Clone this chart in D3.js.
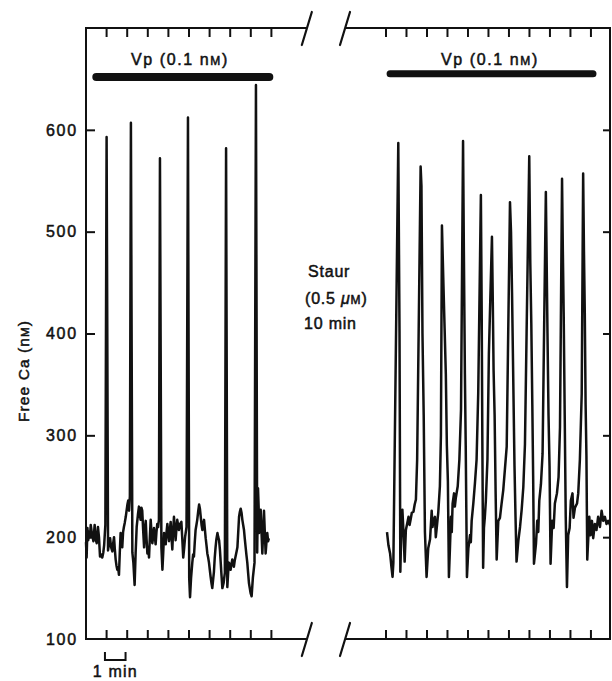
<!DOCTYPE html>
<html>
<head>
<meta charset="utf-8">
<script src="https://cdn.jsdelivr.net/npm/d3@7"></script>
<style>
  html, body { margin: 0; padding: 0; background: #fff; }
  svg { display: block; }
  text { font-family: "Liberation Sans", Arial, Helvetica, sans-serif; fill: #111; stroke: #111; stroke-width: 0.5px; }
</style>
</head>
<body>
<svg id="chart" width="612" height="681"></svg>
<script>
// ---------- data (time in minutes, free Ca in nM) ----------
const leftTime = [0.00,0.03,0.07,0.11,0.15,0.19,0.23,0.29,0.36,0.42,0.47,0.52,0.58,0.63,0.68,0.74,0.79,0.84,0.88,0.94,
  1.00,1.07,1.12,1.17,1.22,1.28,1.32,1.36,1.40,1.44,1.48,1.52,1.56,1.60,1.64,1.68,1.72,1.76,1.80,1.84,1.88,1.93,1.97,2.01,2.05,2.09,2.13,
  2.18,2.25,2.30,2.36,2.41,2.46,2.52,2.57,2.61,2.65,2.69,2.73,2.78,2.82,2.86,2.90,2.94,2.98,3.02,3.06,3.10,3.14,3.18,3.22,3.26,3.30,3.34,3.38,3.42,3.46,3.50,3.54,
  3.59,3.66,3.71,3.75,3.79,3.83,3.87,3.91,3.95,3.99,4.03,4.07,4.11,4.15,4.19,4.23,4.27,4.31,4.35,4.39,4.43,4.47,4.51,4.57,4.63,4.67,4.72,4.76,4.81,4.88,
  4.95,5.01,5.05,5.10,5.16,5.20,5.24,5.28,5.32,5.36,5.40,5.45,5.49,5.53,5.57,5.61,5.65,5.69,5.73,5.77,5.81,5.85,5.89,5.93,5.97,6.01,6.05,6.09,6.13,6.17,6.21,6.25,6.29,6.33,6.38,6.42,6.46,6.50,6.54,6.58,6.62,6.68,6.74,
  6.80,6.86,6.90,6.94,6.98,7.02,7.06,7.10,7.14,7.18,7.22,7.27,7.31,7.35,7.39,7.43,7.47,7.51,7.55,7.59,7.63,7.67,7.71,7.75,7.79,7.83,7.87,7.91,7.95,7.99,8.04,8.10,8.18,
  8.25,8.31,8.35,8.38,8.40,8.44,8.48,8.52,8.56,8.60,8.64,8.68,8.72,8.76,8.80,8.84,8.88];
const leftCa = [195,180,209,197,205,200,212,203,196,212,198,194,210,200,181,183,180,185,192,212,
  593,187,195,199,190,186,194,200,188,178,172,168,170,163,185,204,196,190,205,210,214,220,226,232,236,226,240,
  607,185,175,153,185,210,222,230,223,217,229,226,205,190,208,216,198,184,190,180,200,217,205,194,200,209,201,193,205,213,210,217,
  572,190,168,185,204,198,193,205,213,204,196,207,215,200,188,206,220,210,197,208,217,212,207,213,215,200,180,188,200,210,
  612,160,141,160,175,183,181,195,207,212,217,226,232,228,220,212,207,213,217,208,199,192,184,180,175,168,161,155,150,158,166,180,190,198,204,200,197,188,175,162,150,155,165,
  582,151,165,175,172,168,173,178,174,171,177,182,186,190,205,220,225,228,224,217,212,207,198,190,182,175,165,155,150,145,142,160,175,
  644,185,248,230,204,215,227,205,184,205,226,205,184,195,204,196,199];

const rightTime = [2.05,2.12,2.20,2.27,2.32,2.36,2.60,2.66,2.70,2.75,2.80,2.86,2.91,2.97,3.04,3.10,3.15,3.20,3.26,3.34,3.40,3.46,3.52,
  3.69,3.73,3.78,3.84,3.90,3.98,4.06,4.15,4.23,4.27,4.31,4.39,4.43,4.47,4.55,4.63,4.68,
  4.73,4.80,4.86,4.92,4.97,5.02,5.07,5.12,5.17,5.21,5.25,5.32,5.36,5.41,5.50,5.58,5.66,
  5.76,5.80,5.85,5.89,5.95,6.02,6.10,6.14,6.18,6.26,6.34,6.42,6.50,
  6.63,6.67,6.70,6.74,6.78,6.82,6.87,6.95,7.02,
  7.17,7.21,7.25,7.30,7.35,7.40,7.48,7.56,7.64,7.72,7.80,7.89,7.95,
  8.05,8.10,8.15,8.22,8.27,8.32,8.37,8.46,8.54,8.62,8.70,8.78,8.86,
  8.99,9.04,9.09,9.14,9.18,9.22,9.32,9.38,9.43,9.48,9.56,9.64,9.70,
  9.80,9.84,9.88,9.93,9.98,10.03,10.11,10.18,10.24,10.34,10.42,10.49,
  10.59,10.63,10.67,10.72,10.77,10.83,10.89,10.96,11.02,11.10,11.15,11.22,11.32,11.38,11.46,11.55,
  11.62,11.66,11.70,11.74,11.78,11.82,11.92,11.98,12.05,12.11,12.19,12.27,12.35,12.44,12.52,12.60,12.68,12.76,12.84,12.93];
const rightCa = [205,192,184,170,161,175,587,400,166,210,227,202,176,207,214,220,212,217,224,225,232,237,276,
  564,545,400,320,205,161,189,198,226,210,216,220,200,208,224,250,300,
  506,450,405,360,290,255,161,189,220,205,233,243,230,239,250,276,325,
  589,480,360,290,161,189,202,195,216,233,253,276,341,
  536,420,300,170,209,219,235,276,380,
  495,433,364,320,243,178,216,219,233,246,266,289,380,
  529,500,440,340,270,220,176,197,210,227,249,291,400,
  574,470,410,330,260,174,194,216,205,236,252,282,380,
  539,470,400,320,270,174,216,209,233,243,259,308,
  552,480,420,320,220,151,202,209,236,243,219,229,233,243,276,341,
  557,480,420,330,280,178,220,202,216,199,213,207,220,210,226,216,220,213,216,212];

const yTickValues = [100, 200, 300, 400, 500, 600];
const leftMinuteTicks = [1, 2, 3, 4, 5, 6, 7, 8, 9];
const rightMinuteTicks = [2, 3, 4, 5, 6, 7, 8, 9, 10, 11, 12];
const vpLeft = [0.5, 8.9];       // vasopressin application (min, left panel)
const vpRight = [2.2, 12.1];     // vasopressin application (min, right panel)
const vpLevel = 652;             // drawn just above the traces (nM scale)
const stauLines = ["Staur", "(0.5 \u03bcM)", "10 min"];

(function draw() {
// ---------- scales ----------
const svg = d3.select("#chart");
const y = d3.scaleLinear().domain([100, 700]).range([639, 28]);
const xL = d3.scaleLinear().domain([0, 10.72]).range([86, 86 + 10.72 * 20.6]);
const xR = d3.scaleLinear().domain([0, 12.93]).range([345, 610]);

const ink = "#111";
const axisW = 2;

// ---------- frame ----------
const yTop = y(700), yBot = y(100);
const frame = svg.append("g").attr("stroke", ink).attr("stroke-width", axisW).attr("fill", "none");
frame.append("path").attr("d", `M${xL(10.72)},${yTop}H${xL(0)}V${yBot}H${xL(10.72)}`);
frame.append("path").attr("d", `M${xR(0)},${yTop}H${xR(12.93)}V${yBot}H${xR(0)}`);

// break marks
const brk = svg.append("g").attr("stroke", ink).attr("stroke-width", 2.2).attr("stroke-linecap", "round");
[[xL(10.72), yTop], [xR(0), yTop], [xL(10.72), yBot], [xR(0), yBot]].forEach(([cx, cy]) => {
  brk.append("line").attr("x1", cx - 5).attr("y1", cy + 17).attr("x2", cx + 5).attr("y2", cy - 16);
});

// x ticks (inward, top and bottom)
const tickLen = 9;
const xt = svg.append("g").attr("stroke", ink).attr("stroke-width", 2);
leftMinuteTicks.forEach(t => {
  xt.append("line").attr("x1", xL(t)).attr("x2", xL(t)).attr("y1", yBot).attr("y2", yBot - tickLen);
  xt.append("line").attr("x1", xL(t)).attr("x2", xL(t)).attr("y1", yTop).attr("y2", yTop + tickLen);
});
rightMinuteTicks.forEach(t => {
  xt.append("line").attr("x1", xR(t)).attr("x2", xR(t)).attr("y1", yBot).attr("y2", yBot - tickLen);
  xt.append("line").attr("x1", xR(t)).attr("x2", xR(t)).attr("y1", yTop).attr("y2", yTop + tickLen);
});

// y ticks + labels
const yAxisL = d3.axisRight(y).tickValues(yTickValues.slice(1)).tickSize(9).tickFormat("");
svg.append("g").attr("transform", `translate(${xL(0)},0)`).call(yAxisL)
  .call(g => g.select(".domain").remove())
  .call(g => g.selectAll("line").attr("stroke", ink).attr("stroke-width", 2));
const yAxisR = d3.axisLeft(y).tickValues(yTickValues.slice(1)).tickSize(7).tickFormat("");
svg.append("g").attr("transform", `translate(${xR(12.93)},0)`).call(yAxisR)
  .call(g => g.select(".domain").remove())
  .call(g => g.selectAll("line").attr("stroke", ink).attr("stroke-width", 2));

svg.append("g").selectAll("text").data(yTickValues).join("text")
  .attr("x", 78).attr("y", d => y(d)).attr("dy", "0.36em")
  .attr("text-anchor", "end").attr("font-size", 16).attr("letter-spacing", 1.8)
  .text(d => d);

// y title
const yt = svg.append("text")
  .attr("transform", `translate(29,371) rotate(-90)`)
  .attr("text-anchor", "middle").attr("font-size", 15.5).attr("letter-spacing", 1.1);
yt.append("tspan").text("Free Ca (n");
yt.append("tspan").attr("font-size", 11.5).text("M");
yt.append("tspan").text(")");

// ---------- traces ----------
const line = (xs) => d3.line().x(d => xs(d[0])).y(d => y(d[1])).curve(d3.curveLinear);
const leftData = leftTime.map((t, i) => [t, leftCa[i]]);
const rightData = rightTime.map((t, i) => [t, rightCa[i]]);

svg.append("path").datum(leftData).attr("d", line(xL))
  .attr("fill", "none").attr("stroke", ink).attr("stroke-width", 2.5)
  .attr("stroke-linejoin", "round");
svg.append("path").datum(rightData).attr("d", line(xR))
  .attr("fill", "none").attr("stroke", ink).attr("stroke-width", 2.5)
  .attr("stroke-linejoin", "round");

// ---------- vasopressin bars ----------
svg.append("line").attr("x1", xL(vpLeft[0])).attr("x2", xL(vpLeft[1]))
  .attr("y1", y(vpLevel)).attr("y2", y(vpLevel))
  .attr("stroke", ink).attr("stroke-width", 8).attr("stroke-linecap", "round");
svg.append("line").attr("x1", xR(vpRight[0])).attr("x2", xR(vpRight[1]))
  .attr("y1", y(vpLevel + 3)).attr("y2", y(vpLevel + 3))
  .attr("stroke", ink).attr("stroke-width", 7).attr("stroke-linecap", "round");

function vpLabel(cx) {
  const t = svg.append("text").attr("x", cx).attr("y", 65)
    .attr("text-anchor", "middle").attr("font-size", 16).attr("letter-spacing", 1.6);
  t.append("tspan").text("Vp (0.1 n");
  t.append("tspan").attr("font-size", 12).text("M");
  t.append("tspan").text(")");
}
vpLabel(xL(4.56));
vpLabel(xR(7.07));

// ---------- staurosporine note ----------
const st = svg.append("g").attr("font-size", 16).attr("letter-spacing", 0.8);
st.append("text").attr("x", 308).attr("y", 277).text(stauLines[0]);
const st2 = st.append("text").attr("x", 305).attr("y", 304);
st2.append("tspan").text("(0.5 ");
st2.append("tspan").attr("font-style", "italic").text("\u03bc");
st2.append("tspan").attr("font-size", 12).text("M");
st2.append("tspan").text(")");
st.append("text").attr("x", 304).attr("y", 329).text(stauLines[2]);

// ---------- 1-min scale bar ----------
svg.append("path")
  .attr("d", `M${xL(0.92)},652V660H${xL(1.92)}V652`)
  .attr("fill", "none").attr("stroke", ink).attr("stroke-width", 2);
svg.append("text").attr("x", xL(1.42)).attr("y", 677).attr("text-anchor", "middle")
  .attr("font-size", 16).attr("letter-spacing", 1.2).text("1 min");
})();
</script>
</body>
</html>
